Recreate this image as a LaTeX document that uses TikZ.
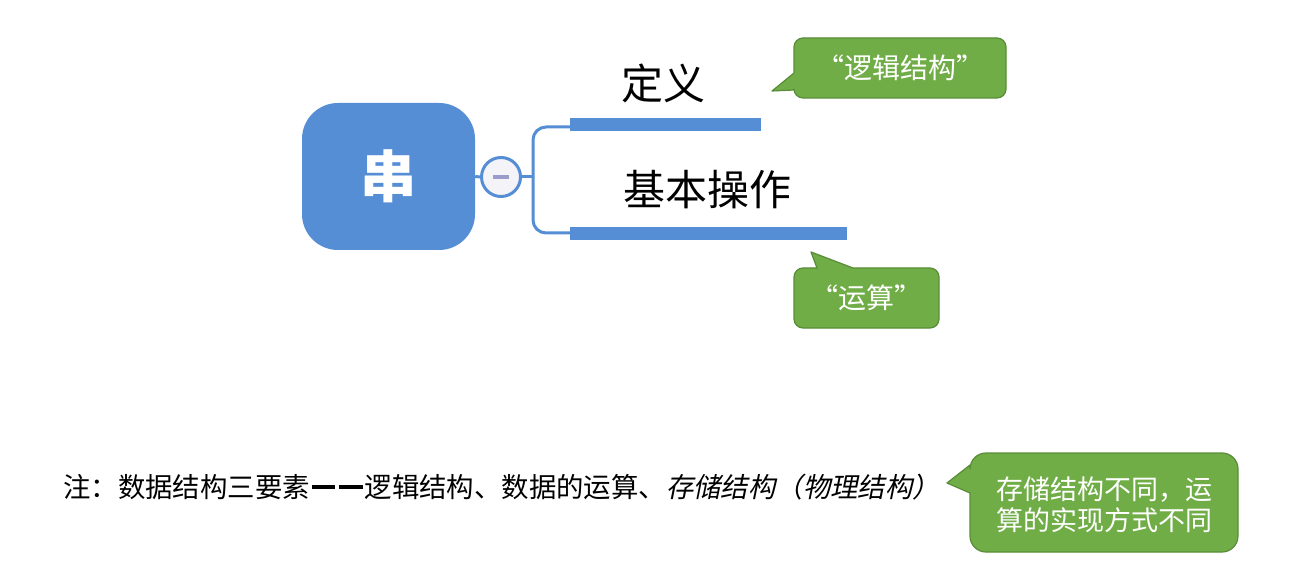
\documentclass[tikz,border=0pt]{standalone}
\usepackage{fontspec}
\setmainfont{Noto Sans CJK SC}
\newfontfamily\cjkit[FakeSlant=0.2]{Noto Sans CJK SC}
\definecolor{mblue}{HTML}{558ED5}
\definecolor{cgreen}{HTML}{70AD47}
\definecolor{cgreenb}{HTML}{5A8C38}
\definecolor{tfill}{HTML}{F3F3F8}
\definecolor{minus}{HTML}{9C9CCB}
\newcommand{\fwdash}{\makebox[1em][c]{\rule[0.32em]{0.85em}{0.12em}}}
\tikzset{
  callout/.style={fill=cgreen,draw=cgreenb,line width=1.2pt,line join=round},
  ctext/.style={text=white,inner sep=0pt,font=\fontsize{28}{32}\selectfont},
  bar/.style={fill=mblue},
  topic/.style={inner sep=0pt,text=black,font=\fontsize{42}{48}\selectfont},
}
\begin{document}
\begin{tikzpicture}[x=1pt,y=-1pt]
\useasboundingbox[fill=white] (0,0) rectangle (1293,569);
% root
\node[fill=mblue,rounded corners=36pt,minimum width=173pt,minimum height=147pt,inner sep=0pt,
  text=white,font=\fontsize{56}{60}\selectfont\bfseries] (root) at (388.5,176.5) {串};
% toggle
\node[circle,draw=mblue,line width=3pt,fill=tfill,minimum size=39pt,inner sep=0pt] (toggle) at (501,177) {};
\draw[minus,line width=3.2pt] ([xshift=-8pt]toggle.center) -- ([xshift=8pt]toggle.center);
\draw[mblue,line width=3pt] (root.east) -- (toggle.west);
% bracket
\coordinate (bt) at (570,127);
\coordinate (bb) at (570,233);
\coordinate (bm) at (533,177);
\draw[mblue,line width=3pt] (toggle.east) -- (bm);
\draw[mblue,line width=3pt,rounded corners=13pt] (bt) -- (533,127) -- (533,233) -- (bb);
% bars
\fill[bar] (570,118) rectangle (761,131);
\fill[bar] (570,227) rectangle (847,240);
% topics
\node[topic] (def) at (663,83) {定义};
\node[topic] (ops) at (707,190) {基本操作};
% callout 1
\draw[callout] (772,91) -- (794,73) [rounded corners=9pt] -- (794,38) -- (1006,38) -- (1006,98) -- (794,98) [sharp corners] -- (794,90) -- cycle;
\node[ctext] (c1) at (900,68) {“逻辑结构”};
% callout 2
\draw[callout] (811,252) -- (853,268) [rounded corners=9pt] -- (939,268) -- (939,328) -- (794,328) -- (794,268) [sharp corners] -- (817,268) -- cycle;
\node[ctext] (c2) at (866,298) {“运算”};
% callout 3
\draw[callout] (947,483) -- (970,465) [rounded corners=16pt] -- (970,453) -- (1238,453) -- (1238,552) -- (970,552) [sharp corners] -- (970,493) -- cycle;
\node[ctext,align=center,font=\fontsize{27}{31}\selectfont] (c3) at (1104,505) {存储结构不同，运\\算的实现方式不同};
% note
\node[anchor=west,inner sep=0pt,text=black,font=\fontsize{27.4}{30}\selectfont] (note) at (63,487)
  {注：数据结构三要素\fwdash\fwdash 逻辑结构、数据的运算、{\cjkit 存储结构（物理结构）}};
\end{tikzpicture}
\end{document}
